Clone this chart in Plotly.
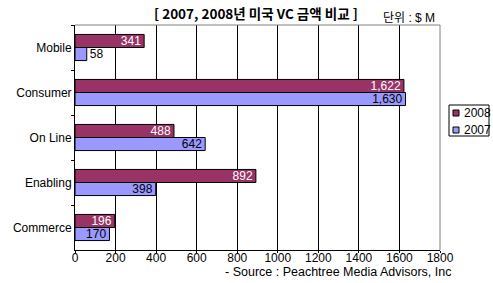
import plotly.graph_objects as go

categories = ["Mobile", "Consumer", "On Line", "Enabling", "Commerce"]
series_names = ["2008", "2007"]
values_2008 = [341, 1622, 488, 892, 196]
values_2007 = [58, 1630, 642, 398, 170]
x_ticks = [0, 200, 400, 600, 800, 1000, 1200, 1400, 1600, 1800]

title_text = "[ 2007, 2008년 미국 VC 금액 비교 ]"
unit_text = "단위 : $ M"
source_text = "- Source : Peachtree Media Advisors, Inc"

COL_2008 = "#993366"
COL_2007 = "#9999FF"
FONT = "Liberation Sans, Arial, sans-serif"

W, H = 493, 283
L, R, T, B = 75, 440, 25, 250


def px(xp):
    return (xp - L) / (R - L)


def py(yp):
    return (B - yp) / (B - T)


def positions(vals):
    # small bars cannot hold their label, so it goes outside
    return ["outside" if v < 100 else "inside" for v in vals]


fig = go.Figure()
fig.add_trace(go.Bar(
    y=categories, x=values_2008, name=series_names[0], orientation="h",
    marker=dict(color=COL_2008, line=dict(color="black", width=1)),
    texttemplate="%{x:,}", textposition=positions(values_2008), insidetextanchor="end",
    insidetextfont=dict(color="white", size=12, family=FONT),
    outsidetextfont=dict(color="black", size=12, family=FONT),
    cliponaxis=False, showlegend=False,
))
fig.add_trace(go.Bar(
    y=categories, x=values_2007, name=series_names[1], orientation="h",
    marker=dict(color=COL_2007, line=dict(color="black", width=1)),
    texttemplate="%{x:,}", textposition=positions(values_2007), insidetextanchor="end",
    insidetextfont=dict(color="black", size=12, family=FONT),
    outsidetextfont=dict(color="black", size=12, family=FONT),
    cliponaxis=False, showlegend=False,
))

fig.update_layout(
    width=W, height=H,
    margin=dict(l=L, r=W - R, t=T, b=H - B, pad=0),
    paper_bgcolor="white", plot_bgcolor="white",
    barmode="group", bargap=0.42, bargroupgap=0,
    font=dict(family=FONT, size=12, color="black"),
    showlegend=False,
    uniformtext=dict(minsize=12, mode="show"),
)
fig.update_xaxes(
    range=[0, 1800], tickvals=x_ticks, ticktext=[str(v) for v in x_ticks],
    showgrid=True, gridcolor="black", gridwidth=1,
    showline=True, linecolor="black", linewidth=1,
    zeroline=False, ticks="outside", ticklen=2, tickcolor="black",
    ticklabelstandoff=-5,
    tickfont=dict(size=12, family=FONT),
)
fig.update_yaxes(
    autorange="reversed", showgrid=False,
    showline=True, linecolor="black", linewidth=1,
    ticks="outside", ticklen=3, tickcolor="black", tickson="boundaries",
    tickfont=dict(size=12, family=FONT),
)

# gray top/right border
fig.add_shape(type="line", xref="paper", yref="paper", x0=0, x1=1, y0=1, y1=1,
              line=dict(color="#808080", width=1), layer="above")
fig.add_shape(type="line", xref="paper", yref="paper", x0=1, x1=1, y0=0, y1=1,
              line=dict(color="#808080", width=1), layer="above")

# titles
fig.add_annotation(text="<b>" + title_text + "</b>", xref="paper", yref="paper",
                   x=px(256), y=py(13), xanchor="center", yanchor="middle",
                   showarrow=False, font=dict(size=13.5, family="Noto Sans CJK KR, " + FONT))
fig.add_annotation(text=unit_text, xref="paper", yref="paper",
                   x=px(437), y=py(18), xanchor="right", yanchor="middle",
                   showarrow=False, font=dict(size=12, family=FONT + ", Noto Sans CJK KR"))
fig.add_annotation(text=source_text, xref="paper", yref="paper",
                   x=px(454), y=py(272), xanchor="right", yanchor="middle",
                   showarrow=False, font=dict(size=12.5, family=FONT))

# custom legend
fig.add_shape(type="rect", xref="paper", yref="paper",
              x0=px(449), x1=px(489), y0=py(105), y1=py(136),
              line=dict(color="black", width=1), fillcolor="white")
leg_cols = [COL_2008, COL_2007]
leg_y = [113, 130]
for name, col, yc in zip(series_names, leg_cols, leg_y):
    fig.add_shape(type="rect", xref="paper", yref="paper",
                  x0=px(453), x1=px(459), y0=py(yc - 3), y1=py(yc + 3),
                  line=dict(color="black", width=1), fillcolor=col)
    fig.add_annotation(text=name, xref="paper", yref="paper",
                       x=px(462), y=py(yc), xanchor="left", yanchor="middle",
                       showarrow=False, font=dict(size=12, family=FONT))

fig.write_html("out.html")
